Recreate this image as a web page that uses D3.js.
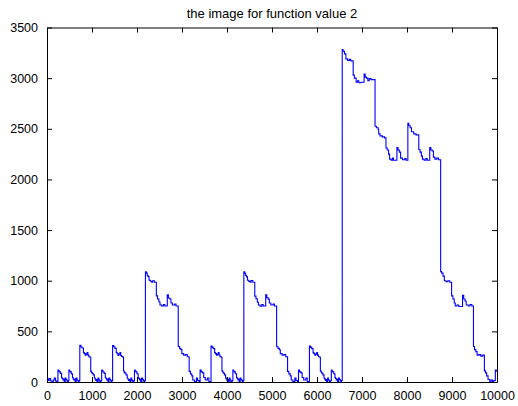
<!DOCTYPE html>
<html>
<head>
<meta charset="utf-8">
<script src="https://cdn.jsdelivr.net/npm/d3@7"></script>
<style>
  html, body { margin: 0; padding: 0; background: #fff; }
  svg { display: block; }
</style>
</head>
<body>
<div id="chart"></div>
<script>
// ── Data ───────────────────────────────────────────────────────
const TITLE = 'the image for function value 2';

const xTicks = [0, 1000, 2000, 3000, 4000, 5000, 6000, 7000, 8000, 9000, 10000];
const yTicks = [0, 500, 1000, 1500, 2000, 2500, 3000, 3500];

// 0 .. 2187
const block0 = [
  [0,40],[15,30],[30,15],[50,35],[81,10],[110,0],[140,20],[162,40],[190,10],[215,0],
  [243,119],[258,110],[273,100],[298,85],[324,45],[338,35],[353,20],[368,30],[383,5],[405,40],[423,25],[443,10],[458,0],[471,15],
  [486,119],[501,108],[516,100],[541,80],[567,45],[581,30],[596,20],[611,30],[626,5],[648,40],[666,20],[686,10],[701,0],[714,15],
  [729,362],[754,345],[779,335],[810,290],[829,280],[849,265],[869,275],[891,290],[909,265],[929,250],[959,245],
  [972,105],[987,95],[1002,85],[1027,70],[1053,40],[1067,30],[1082,15],[1097,25],[1112,5],[1134,40],[1152,20],[1172,5],[1187,0],[1200,15],
  [1215,119],[1230,110],[1245,98],[1270,85],[1296,45],[1310,35],[1325,20],[1340,30],[1355,5],[1377,40],[1395,25],[1415,10],[1430,0],[1443,15],
  [1458,360],[1483,348],[1508,332],[1539,292],[1558,280],[1578,262],[1598,276],[1620,292],[1638,262],[1658,252],[1688,244],
  [1701,108],[1716,95],[1731,88],[1756,70],[1782,40],[1796,30],[1811,15],[1826,25],[1841,5],[1863,40],[1881,20],[1901,5],[1916,0],[1929,15],
  [1944,119],[1959,108],[1974,100],[1999,82],[2025,45],[2039,35],[2054,20],[2069,30],[2084,5],[2106,40],[2124,25],[2144,10],[2159,0],[2172,15]
];

// 2187 .. 4374
const block1 = [
  [2187,1088],[2207,1075],[2227,1050],[2247,1040],[2268,1005],[2297,995],[2327,985],[2349,1000],[2387,985],
  [2430,850],[2457,820],[2487,790],[2511,760],[2547,750],[2587,765],[2617,750],
  [2673,860],[2697,830],[2727,820],[2754,780],[2787,760],[2837,770],[2867,750],
  [2916,350],[2947,330],[2977,320],[2997,280],[3037,265],[3077,270],[3117,250],
  [3159,105],[3187,80],[3217,60],[3240,20],[3277,5],[3321,40],[3347,15],[3377,0],
  [3402,119],[3427,100],[3457,90],[3483,45],[3517,20],[3565,40],[3597,5],
  [3645,356],[3670,342],[3695,330],[3726,290],[3745,280],[3765,265],[3785,275],[3807,290],[3825,265],[3845,250],[3875,245],
  [3888,110],[3903,98],[3918,88],[3943,70],[3969,40],[3983,30],[3998,15],[4013,25],[4028,5],[4050,40],[4068,20],[4088,5],[4103,0],[4116,15],
  [4131,119],[4146,108],[4161,100],[4186,82],[4212,45],[4226,35],[4241,20],[4256,30],[4271,5],[4293,40],[4311,25],[4331,10],[4346,0],[4359,15]
];

// 4374 .. 6561
const block2 = [
  [4374,1088],[4394,1072],[4414,1052],[4434,1038],[4455,1005],[4484,993],[4514,985],[4536,1002],[4574,985],
  [4617,848],[4644,822],[4674,788],[4698,760],[4734,748],[4774,765],[4804,750],
  [4860,862],[4884,832],[4914,818],[4941,780],[4974,760],[5024,770],[5054,750],
  [5103,348],[5134,332],[5164,318],[5184,280],[5224,265],[5264,270],[5304,250],
  [5346,105],[5374,80],[5404,60],[5427,20],[5464,5],[5508,40],[5534,15],[5564,0],
  [5589,119],[5614,100],[5644,90],[5670,45],[5704,20],[5752,40],[5784,5],
  [5832,356],[5857,342],[5882,330],[5913,290],[5932,280],[5952,265],[5972,275],[5994,290],[6012,265],[6032,250],[6062,245],
  [6075,110],[6090,98],[6105,88],[6130,70],[6156,40],[6170,30],[6185,15],[6200,25],[6215,5],[6237,40],[6255,20],[6275,5],[6290,0],[6303,15],
  [6318,119],[6333,108],[6348,100],[6373,82],[6399,45],[6413,35],[6428,20],[6443,30],[6458,5],[6480,40],[6498,25],[6518,10],[6533,0],[6546,15]
];

// 6561 .. 10000
const block3 = [
  [6561,3282],[6580,3265],[6610,3240],[6642,3190],[6680,3175],[6720,3185],[6750,3170],
  [6804,3030],[6830,3000],[6870,2960],[6900,2975],[6930,2955],[6980,2960],
  [7047,3040],[7070,3010],[7100,3000],[7130,2975],[7160,2995],[7200,2985],
  [7290,2525],[7320,2510],[7360,2490],[7372,2450],[7400,2430],[7450,2420],[7500,2410],
  [7533,2310],[7560,2290],[7590,2250],[7614,2200],[7650,2190],[7680,2210],[7700,2190],
  [7776,2315],[7800,2290],[7830,2270],[7858,2210],[7900,2195],[7950,2205],[7980,2190],
  [8019,2555],[8040,2530],[8070,2510],[8100,2470],[8150,2450],[8200,2440],
  [8262,2295],[8290,2270],[8320,2230],[8343,2200],[8380,2190],[8420,2205],[8450,2190],
  [8505,2315],[8530,2290],[8560,2280],[8587,2220],[8620,2200],[8660,2210],[8700,2195],
  [8748,1090],[8770,1075],[8800,1045],[8830,1000],[8870,990],[8910,1000],[8950,985],
  [8991,850],[9020,820],[9050,780],[9072,750],[9110,760],[9150,745],
  [9234,855],[9260,820],[9290,800],[9315,760],[9360,750],[9400,765],[9440,750],
  [9477,350],[9500,320],[9530,300],[9558,265],[9600,270],[9640,255],[9680,265],
  [9720,110],[9745,90],[9770,60],[9801,25],[9840,5],[9870,20],[9900,0],[9930,15],
  [9963,119],[9980,110],[10000,100]
];

// ── Layout ─────────────────────────────────────────────────────
const W = 518, H = 406;
const M = { left: 47, right: 497, top: 27.5, bottom: 382 };
const FONT = '"Liberation Sans", Arial, Helvetica, sans-serif';
const TICK = 5;

const svg = d3.select('#chart').append('svg')
  .attr('width', W).attr('height', H)
  .attr('viewBox', `0 0 ${W} ${H}`);

svg.append('rect').attr('width', W).attr('height', H).attr('fill', '#fff');

const x = d3.scaleLinear().domain([0, 10000]).range([M.left, M.right]);
const y = d3.scaleLinear().domain([0, 3500]).range([M.bottom, M.top]);

// ── Series ─────────────────────────────────────────────────────
const series = [].concat(block0, block1, block2, block3);

const line = d3.line()
  .x(d => x(d[0]))
  .y(d => y(d[1]))
  .curve(d3.curveStepAfter);

svg.append('path')
  .datum(series)
  .attr('fill', 'none')
  .attr('stroke', '#0000ff')
  .attr('stroke-width', 1.1)
  .attr('d', line);

// ── Axes (box, inward ticks on all sides) ──────────────────────
const fmt = d3.format('d');

svg.append('g')
  .attr('transform', `translate(0,${M.bottom})`)
  .call(d3.axisBottom(x).tickValues(xTicks).tickFormat(fmt).tickSizeInner(-TICK).tickSizeOuter(0).tickPadding(9));

svg.append('g')
  .attr('transform', `translate(0,${M.top})`)
  .call(d3.axisTop(x).tickValues(xTicks).tickFormat('').tickSizeInner(-TICK).tickSizeOuter(0));

svg.append('g')
  .attr('transform', `translate(${M.left},0)`)
  .call(d3.axisLeft(y).tickValues(yTicks).tickFormat(fmt).tickSizeInner(-TICK).tickSizeOuter(0).tickPadding(9));

svg.append('g')
  .attr('transform', `translate(${M.right},0)`)
  .call(d3.axisRight(y).tickValues(yTicks).tickFormat('').tickSizeInner(-TICK).tickSizeOuter(0));

svg.selectAll('.domain').attr('stroke', '#000').attr('stroke-width', 1);
svg.selectAll('.tick line').attr('stroke', '#000');
svg.selectAll('.tick text')
  .attr('fill', '#000')
  .attr('font-family', FONT)
  .attr('font-size', '12.5px');

// ── Title ──────────────────────────────────────────────────────
svg.append('text')
  .attr('x', (M.left + M.right) / 2)
  .attr('y', 18)
  .attr('text-anchor', 'middle')
  .attr('font-family', FONT)
  .attr('font-size', '13px')
  .attr('fill', '#000')
  .text(TITLE);
</script>
</body>
</html>
